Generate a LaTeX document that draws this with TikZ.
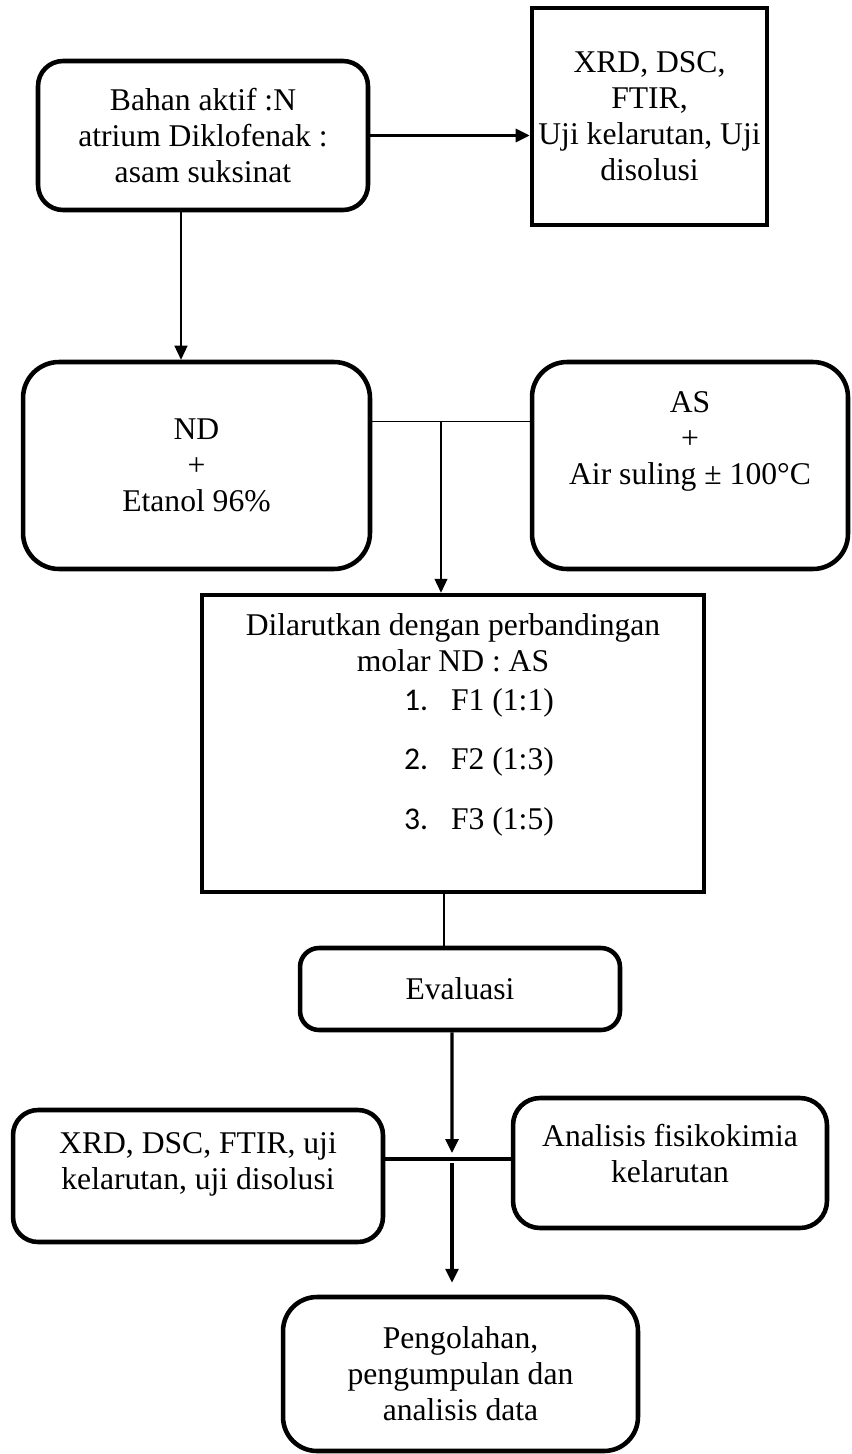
\documentclass[tikz,border=0pt]{standalone}
\usepackage{fontspec}
\setmainfont{Liberation Serif}
\newfontfamily\numfont{Carlito}
\usetikzlibrary{arrows.meta, positioning}

\newcommand{\fitem}[2]{\hspace*{1.04cm}\makebox[0.94cm][l]{\numfont #1}#2}

\begin{document}
\begin{tikzpicture}[x=0.02cm, y=-0.02cm, font=\fontsize{18}{20.5}\selectfont,
      rbox/.style={draw, line width=2.6pt, rounded corners=0.5cm, align=center, inner sep=0pt},
      sbox/.style={draw, line width=2.6pt, align=center, inner sep=0pt},
      thinln/.style={line width=0.75pt},
      thickln/.style={line width=1.8pt},
      arr/.style={-{Triangle[length=0.28cm, width=0.26cm]}}]
  \useasboundingbox (0,0) rectangle (852,1454);

  % top row
  \node[rbox, minimum width=6.6cm, minimum height=2.98cm] (bahan) at (203,135.5)
    {Bahan aktif :N\\atrium Diklofenak :\\asam suksinat};
  \node[sbox, minimum width=4.7cm, minimum height=4.34cm] (uji1) at (649.5,116.5)
    {XRD, DSC,\\FTIR,\\Uji kelarutan, Uji\\disolusi};

  % solutions
  \node[rbox, rounded corners=0.72cm, minimum width=6.94cm, minimum height=4.14cm] (nd) at (196.5,465.5)
    {ND\\+\\Etanol 96\%};
  \node[rbox, rounded corners=0.7cm, minimum width=6.32cm, minimum height=4.14cm, text depth=1.1cm] (as) at (690,465.5)
    {AS\\+\\Air suling ± 100°C};

  \node[sbox, minimum width=10.04cm, minimum height=5.94cm, text depth=0.88cm] (larut) at (453,743.5)
    {Dilarutkan dengan perbandingan\\molar ND : AS\\[1.5pt]
     \fitem{1.}{F1 (1:1)}\\[13.5pt]\fitem{2.}{F2 (1:3)}\\[13.5pt]\fitem{3.}{F3 (1:5)}};

  \node[rbox, rounded corners=0.38cm, minimum width=6.4cm, minimum height=1.64cm] (eval) at (460,989) {Evaluasi};

  % analysis
  \node[rbox, minimum width=7.4cm, minimum height=2.64cm, text depth=0.6cm] (uji2) at (198,1176)
    {XRD, DSC, FTIR, uji\\kelarutan, uji disolusi};
  \node[rbox, rounded corners=0.54cm, minimum width=6.28cm, minimum height=2.6cm, text depth=0.4cm] (anl) at (670,1163)
    {Analisis fisikokimia\\kelarutan};
  \node[rbox, rounded corners=0.68cm, minimum width=7.1cm, minimum height=3.08cm] (olah) at (460.5,1374)
    {Pengolahan,\\pengumpulan dan\\analisis data};

  % connectors
  \draw[thickln, arr] (bahan.east) -- (uji1.west |- bahan.east);
  \coordinate (b1) at ([xshift=-0.44cm]bahan.south);
  \draw[thinln, arr] (b1) -- (b1 |- nd.north);

  \coordinate (m1) at ([yshift=0.88cm]nd.east);
  \draw[thinln] (m1) -- (m1 -| as.west);
  \coordinate (j1) at (441,421.5);
  \draw[thinln, arr] (j1) -- (j1 |- larut.north);

  \coordinate (b2) at ([xshift=-0.18cm]larut.south);
  \draw[thinln] (b2) -- (b2 |- eval.north);

  \coordinate (b3) at ([xshift=-0.16cm]eval.south);
  \coordinate (j2) at (452,1159);
  \draw[thickln, arr, shorten >=0.12cm] (b3) -- (j2);
  \draw[thickln] (uji2.east |- j2) -- (anl.west |- j2);
  \draw[thickln, arr, shorten <=0.08cm, shorten >=0.24cm] (j2) -- (j2 |- olah.north);
\end{tikzpicture}
\end{document}
